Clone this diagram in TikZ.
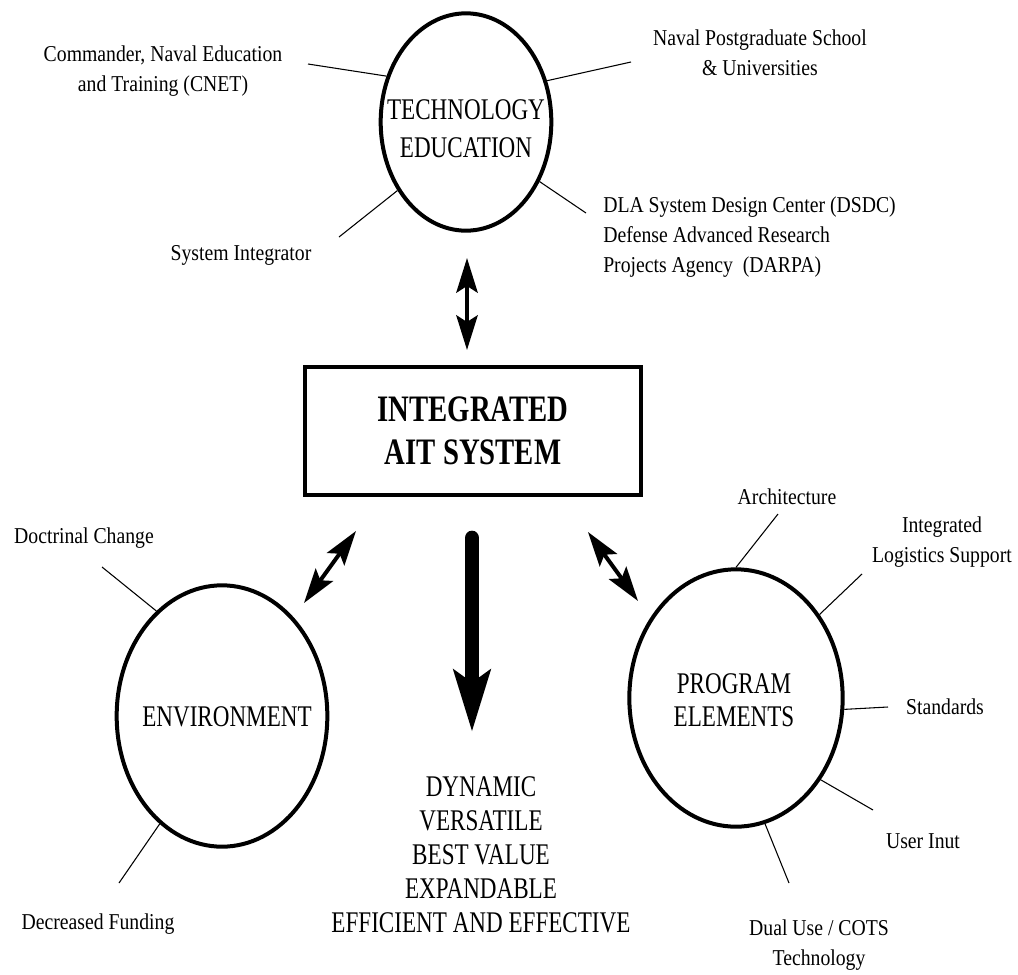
\documentclass[tikz,border=0pt]{standalone}
\usepackage{fontspec}
\setmainfont{Liberation Serif}[FakeStretch=0.77]
\newfontfamily\lblfont{Liberation Serif}[FakeStretch=0.87]
\usetikzlibrary{shapes.geometric,arrows.meta}
\begin{document}
\begin{tikzpicture}[x=0.75pt,y=-0.75pt,
  oval/.style={draw,ellipse,line width=3pt,inner sep=0pt},
  bigtext/.style={align=center,inner sep=0pt,font=\fontsize{22.5}{25.5}\selectfont},
  lbl/.style={align=center,inner sep=0pt,font=\lblfont\fontsize{17}{22.5}\selectfont},
  spoke/.style={line width=0.8pt},
  dbl/.style={line width=3pt,{Stealth[length=26pt,width=16pt,inset=5pt]}-{Stealth[length=26pt,width=16pt,inset=5pt]}},
  bigarrow/.style={line width=11pt,line cap=round,-{Stealth[length=46pt,width=27pt,inset=9pt]}},
  aitbox/.style={draw,line width=3.5pt,minimum width=252pt,minimum height=96pt,inner sep=0pt,align=center,font=\bfseries\fontsize{28}{32}\selectfont}]
\useasboundingbox (0,0) rectangle (1018,975);

% ellipses
\node[oval,minimum width=128pt,minimum height=163pt] (te) at (466,122) {};
\node[bigtext,font=\fontsize{22.5}{28.5}\selectfont] (tetext) at (466,129) {TECHNOLOGY\\EDUCATION};
\node[oval,minimum width=158pt,minimum height=196pt] (env) at (222,716) {};
\node[bigtext] (envtext) at (227,717) {ENVIRONMENT};
\node[oval,minimum width=160pt,minimum height=193pt] (pe) at (736,698) {};
\node[bigtext,font=\fontsize{22.5}{25}\selectfont] (petext) at (734,700) {PROGRAM\\ELEMENTS};

% central box
\node[aitbox] (ait) at (473,431) {INTEGRATED\\AIT SYSTEM};

% outcome text
\node[bigtext] (out) at (481,855) {DYNAMIC\\VERSATILE\\BEST VALUE\\EXPANDABLE\\EFFICIENT AND EFFECTIVE};

% labels around technology education
\node[lbl] (cnet) at (163,71) {Commander, Naval Education\\and Training (CNET)};
\node[lbl] (nps) at (760,53) {Naval Postgraduate School\\\& Universities};
\node[lbl] (si) at (241,255) {System Integrator};
\node[lbl,align=left,anchor=west] (dsdc) at (603,237) {DLA System Design Center (DSDC)\\Defense Advanced Research\\Projects Agency\ \ (DARPA)};

\coordinate (c1) at (308,64);
\coordinate (c2) at (631,62);
\coordinate (c3) at (339,237);
\coordinate (c4) at (586,213);
\draw[spoke] (te.150.6) -- (c1);
\draw[spoke] (te.27.4) -- (c2);
\draw[spoke] (te.225) -- (c3);
\draw[spoke] (te.321.7) -- (c4);

% labels around environment
\node[lbl] (doc) at (84,538) {Doctrinal Change};
\node[lbl] (fund) at (98,924) {Decreased Funding};
\coordinate (e1) at (102,567);
\coordinate (e2) at (119,883);
\draw[spoke] (env.122.9) -- (e1);
\draw[spoke] (env.240.7) -- (e2);

% labels around program elements
\node[lbl] (arch) at (787,497) {Architecture};
\node[lbl] (ils) at (942,542) {Integrated\\Logistics Support};
\node[lbl] (std) at (945,707) {Standards};
\node[lbl] (user) at (923,841) {User Inut};
\node[lbl] (dual) at (819,945) {Dual Use / COTS\\Technology};
\coordinate (p1) at (778,514);
\coordinate (p2) at (862,574);
\coordinate (p3) at (888,707);
\coordinate (p4) at (873,810);
\coordinate (p5) at (789,883);
\draw[spoke] (pe.90) -- (p1);
\draw[spoke] (pe.45.7) -- (p2);
\draw[spoke] (pe.354.7) -- (p3);
\draw[spoke] (pe.316.7) -- (p4);
\draw[spoke] (pe.283.5) -- (p5);

% arrows
\coordinate (t1) at (467,258);
\coordinate (t2) at (467,350);
\draw[dbl] (t1) -- (t2);
\coordinate (l1) at (356,531);
\coordinate (l2) at (304,603);
\draw[dbl] (l1) -- (l2);
\coordinate (r1) at (588,532);
\coordinate (r2) at (638,601);
\draw[dbl] (r1) -- (r2);
\coordinate (b1) at (472,538);
\coordinate (b2) at (472,732);
\draw[bigarrow] (b1) -- (b2);
\end{tikzpicture}
\end{document}
